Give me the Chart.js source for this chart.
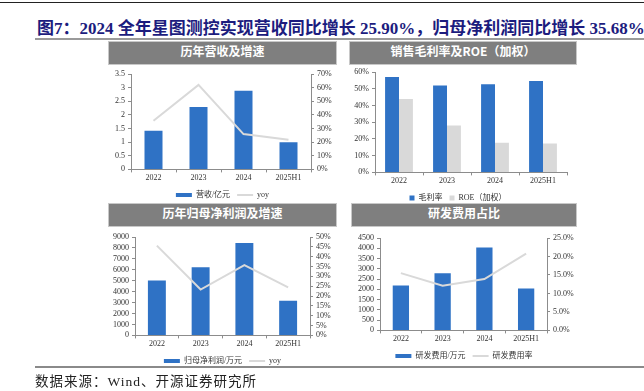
<!DOCTYPE html>
<html>
<head>
<meta charset="utf-8">
<script src="https://cdn.jsdelivr.net/npm/chart.js@4"></script>
<style>
    body { margin: 0; width: 644px; height: 391px; background: #fff; position: relative; overflow: hidden; }
    .rule { position: absolute; }
    .fig-title {
        position: absolute; left: 37px; top: 14px; white-space: nowrap;
        font: bold 17px "Liberation Serif", "Noto Sans CJK SC", serif; color: #1c1c7e;
    }
    .box {
        position: absolute; height: 22px; line-height: 22px; text-align: center;
        background: #7f7f7f; border: 1px solid #c8c8c8; color: #fff;
        font: bold 12px "Noto Sans CJK SC", sans-serif;
    }
    canvas { position: absolute; }
    .source {
        position: absolute; left: 35px; top: 370px; white-space: nowrap; letter-spacing: 1px;
        font: 13.5px "Liberation Serif", "Noto Sans CJK SC", serif; color: #222;
    }
</style>
</head>
<body>
<div class="rule" style="left:0;top:2px;width:644px;height:1px;background:#222"></div>
<div class="fig-title">图7：2024 全年星图测控实现营收同比增长 25.90%，归母净利润同比增长 35.68%</div>
<div class="rule" style="left:35px;top:38px;width:609px;height:2px;background:#9a9a9a"></div>

<div class="box" style="left:108px;top:41px;width:227px">历年营收及增速</div>
<div class="box" style="left:349px;top:41px;width:226px">销售毛利率及ROE（加权）</div>
<div class="box" style="left:108px;top:203px;width:227px">历年归母净利润及增速</div>
<div class="box" style="left:351px;top:203px;width:224px">研发费用占比</div>

<canvas id="revChart" width="229" height="145" style="left:108px;top:64px"></canvas>
<canvas id="marginChart" width="228" height="148" style="left:349px;top:64px"></canvas>
<canvas id="profitChart" width="229" height="148" style="left:108px;top:227px"></canvas>
<canvas id="rdChart" width="226" height="142" style="left:351px;top:228px"></canvas>

<div class="rule" style="left:35px;top:366px;width:609px;height:2px;background:#8a8a8a"></div>
<div class="source">数据来源：Wind、开源证券研究所</div>

<script>
// Categories
const years = ['2022', '2023', '2024', '2025H1'];

// 历年营收及增速
const revenue = [1.42, 2.29, 2.89, 1.00];      // 亿元
const revenueYoy = [35.7, 62.0, 25.9, 21.7];   // %

// 销售毛利率及ROE（加权）
const grossMargin = [57.0, 52.0, 52.7, 54.6];  // %
const roe = [43.8, 28.0, 17.7, 17.3];          // %

// 历年归母净利润及增速
const netProfit = [5030, 6230, 8460, 3180];    // 万元
const netProfitYoy = [45.6, 23.3, 35.7, 24.4]; // %

// 研发费用占比
const rdExpense = [2184, 2780, 4037, 2035];    // 万元
const rdRatio = [15.5, 12.1, 13.9, 20.8];      // %

// Axis ranges / tick steps
const revTicks = { min: 0, max: 3.5, step: 0.5 };
const revYoyTicks = { min: 0, max: 70, step: 10 };
const marginTicks = { min: 0, max: 60, step: 10 };
const profitTicks = { min: 0, max: 9000, step: 1000 };
const profitYoyTicks = { min: 0, max: 50, step: 5 };
const rdTicks = { min: 0, max: 4500, step: 500 };
const rdRatioTicks = { min: 0, max: 25, step: 5 };

const BLUE = '#2f72c5';
const LIGHT = '#d9d9d9';
const AXIS = '#8c8c8c';
const TEXT = '#333333';

Chart.defaults.font.family = '"Liberation Serif", "Noto Sans CJK SC", serif';
Chart.defaults.font.size = 8;
Chart.defaults.color = TEXT;

/**
 * Build a y scale with a fixed width so plot areas line up with the reference
 */
function yScale(t, position, width, fmt) {
    return {
        position: position,
        min: t.min,
        max: t.max,
        border: { display: true, color: AXIS },
        grid: { drawOnChartArea: false, drawTicks: true, tickLength: 3, color: AXIS },
        ticks: { stepSize: t.step, padding: 3, autoSkip: false, callback: fmt },
        afterFit: function(scale) { scale.width = width; }
    };
}

function xScale() {
    return {
        border: { display: true, color: AXIS },
        grid: { drawOnChartArea: false, drawTicks: true, tickLength: 3, color: AXIS },
        ticks: { padding: 1, maxRotation: 0, autoSkip: false }
    };
}

function legendOptions(boxW, boxH) {
    return {
        display: true,
        position: 'bottom',
        reverse: true,
        labels: {
            usePointStyle: true,
            pointStyleWidth: boxW,
            boxHeight: boxH,
            padding: 7,
            color: TEXT,
            font: { size: 8 }
        }
    };
}

function comboChart(id, values, rates, barLabel, lineLabel, leftT, rightT, leftW, rightW, leftFmt, rightFmt, barPct, padTop) {
    const ctx = document.getElementById(id).getContext('2d');
    return new Chart(ctx, {
        data: {
            labels: years,
            datasets: [{
                type: 'bar',
                label: barLabel,
                data: values,
                backgroundColor: BLUE,
                yAxisID: 'y',
                order: 1,
                pointStyle: 'rect',
                categoryPercentage: 1,
                barPercentage: barPct
            }, {
                type: 'line',
                label: lineLabel,
                data: rates,
                borderColor: LIGHT,
                backgroundColor: LIGHT,
                borderWidth: 2,
                pointRadius: 0,
                tension: 0,
                yAxisID: 'y1',
                order: 0,
                pointStyle: 'line'
            }]
        },
        options: {
            responsive: false,
            animation: false,
            devicePixelRatio: 1,
            layout: { padding: { top: padTop, left: 0, right: 0, bottom: 0 } },
            plugins: {
                legend: legendOptions(16, 4),
                tooltip: { enabled: false }
            },
            scales: {
                x: xScale(),
                y: yScale(leftT, 'left', leftW, leftFmt),
                y1: yScale(rightT, 'right', rightW, rightFmt)
            }
        }
    });
}

const pct0 = v => v + '%';
const pct1 = v => v.toFixed(1) + '%';
const plain = v => String(v);

comboChart('revChart', revenue, revenueYoy, '营收/亿元', 'yoy',
    revTicks, revYoyTicks, 23, 26, plain, pct0, 0.4, 10);

comboChart('profitChart', netProfit, netProfitYoy, '归母净利润/万元', 'yoy',
    profitTicks, profitYoyTicks, 27, 27, plain, pct0, 0.41, 10);

comboChart('rdChart', rdExpense, rdRatio, '研发费用/万元', '研发费用率',
    rdTicks, rdRatioTicks, 29, 30, plain, pct1, 0.39, 10);

// Gross margin vs ROE, grouped bars
new Chart(document.getElementById('marginChart').getContext('2d'), {
    type: 'bar',
    data: {
        labels: years,
        datasets: [{
            label: '毛利率',
            data: grossMargin,
            backgroundColor: BLUE,
            pointStyle: 'rect'
        }, {
            label: 'ROE（加权）',
            data: roe,
            backgroundColor: LIGHT,
            pointStyle: 'rect'
        }]
    },
    options: {
        responsive: false,
        animation: false,
        devicePixelRatio: 1,
        datasets: { bar: { categoryPercentage: 0.58, barPercentage: 1 } },
        layout: { padding: { top: 8, left: 0, right: 10, bottom: 0 } },
        plugins: {
            legend: Object.assign(legendOptions(5, 5), { reverse: false }),
            tooltip: { enabled: false }
        },
        scales: {
            x: xScale(),
            y: yScale(marginTicks, 'left', 26, pct0)
        }
    }
});
</script>
</body>
</html>
